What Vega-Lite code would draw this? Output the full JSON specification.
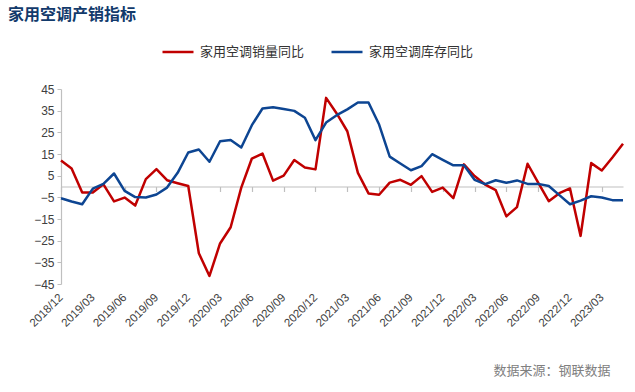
{
  "$schema": "https://vega.github.io/schema/vega-lite/v6.json",
  "width": 562,
  "height": 195,
  "autosize": {"type": "none"},
  "padding": {"left": 61, "top": 89, "right": 12, "bottom": 108},
  "background": "white",
  "config": {"view": {"stroke": null}},
  "title": {
    "text": "家用空调产销指标",
    "anchor": "start",
    "frame": "group",
    "dx": -53,
    "offset": -4,
    "baseline": "bottom",
    "font": "Noto Sans CJK SC",
    "fontSize": 16,
    "fontWeight": "bold",
    "color": "#123a6b"
  },
  "data": {
    "values": [
      {"m": "2018/12", "家用空调销量同比": 12.0, "家用空调库存同比": -5.4},
      {"m": "2019/01", "家用空调销量同比": 8.3, "家用空调库存同比": -6.9},
      {"m": "2019/02", "家用空调销量同比": -2.8, "家用空调库存同比": -8.2},
      {"m": "2019/03", "家用空调销量同比": -2.8, "家用空调库存同比": -1.0},
      {"m": "2019/04", "家用空调销量同比": 1.0, "家用空调库存同比": 1.2},
      {"m": "2019/05", "家用空调销量同比": -6.9, "家用空调库存同比": 6.0},
      {"m": "2019/06", "家用空调销量同比": -5.1, "家用空调库存同比": -2.0},
      {"m": "2019/07", "家用空调销量同比": -8.8, "家用空调库存同比": -4.9},
      {"m": "2019/08", "家用空调销量同比": 3.4, "家用空调库存同比": -5.1},
      {"m": "2019/09", "家用空调销量同比": 8.0, "家用空调库存同比": -3.7},
      {"m": "2019/10", "家用空调销量同比": 2.9, "家用空调库存同比": -0.5},
      {"m": "2019/11", "家用空调销量同比": 1.5, "家用空调库存同比": 6.3},
      {"m": "2019/12", "家用空调销量同比": 0.2, "家用空调库存同比": 15.7},
      {"m": "2020/01", "家用空调销量同比": -30.8, "家用空调库存同比": 17.1},
      {"m": "2020/02", "家用空调销量同比": -41.3, "家用空调库存同比": 11.4},
      {"m": "2020/03", "家用空调销量同比": -26.3, "家用空调库存同比": 20.9},
      {"m": "2020/04", "家用空调销量同比": -18.8, "家用空调库存同比": 21.5},
      {"m": "2020/05", "家用空调销量同比": -0.5, "家用空调库存同比": 18.0},
      {"m": "2020/06", "家用空调销量同比": 12.9, "家用空调库存同比": 28.3},
      {"m": "2020/07", "家用空调销量同比": 15.2, "家用空调库存同比": 36.0},
      {"m": "2020/08", "家用空调销量同比": 2.7, "家用空调库存同比": 36.6},
      {"m": "2020/09", "家用空调销量同比": 5.0, "家用空调库存同比": 35.8},
      {"m": "2020/10", "家用空调销量同比": 12.2, "家用空调库存同比": 34.9},
      {"m": "2020/11", "家用空调销量同比": 8.8, "家用空调库存同比": 31.7},
      {"m": "2020/12", "家用空调销量同比": 7.9, "家用空调库存同比": 21.4},
      {"m": "2021/01", "家用空调销量同比": 40.9, "家用空调库存同比": 29.5},
      {"m": "2021/02", "家用空调销量同比": 33.7, "家用空调库存同比": 32.9},
      {"m": "2021/03", "家用空调销量同比": 25.5, "家用空调库存同比": 35.6},
      {"m": "2021/04", "家用空调销量同比": 6.3, "家用空调库存同比": 38.8},
      {"m": "2021/05", "家用空调销量同比": -3.2, "家用空调库存同比": 38.8},
      {"m": "2021/06", "家用空调销量同比": -3.8, "家用空调库存同比": 28.6},
      {"m": "2021/07", "家用空调销量同比": 1.8, "家用空调库存同比": 13.8},
      {"m": "2021/08", "家用空调销量同比": 3.1, "家用空调库存同比": 10.6},
      {"m": "2021/09", "家用空调销量同比": 0.8, "家用空调库存同比": 7.5},
      {"m": "2021/10", "家用空调销量同比": 4.8, "家用空调库存同比": 9.4},
      {"m": "2021/11", "家用空调销量同比": -2.5, "家用空调库存同比": 14.9},
      {"m": "2021/12", "家用空调销量同比": -0.5, "家用空调库存同比": 12.3},
      {"m": "2022/01", "家用空调销量同比": -5.4, "家用空调库存同比": 9.8},
      {"m": "2022/02", "家用空调销量同比": 10.2, "家用空调库存同比": 9.8},
      {"m": "2022/03", "家用空调销量同比": 4.8, "家用空调库存同比": 3.1},
      {"m": "2022/04", "家用空调销量同比": 0.9, "家用空调库存同比": 1.1},
      {"m": "2022/05", "家用空调销量同比": -1.7, "家用空调库存同比": 2.9},
      {"m": "2022/06", "家用空调销量同比": -13.8, "家用空调库存同比": 1.7},
      {"m": "2022/07", "家用空调销量同比": -9.5, "家用空调库存同比": 2.8},
      {"m": "2022/08", "家用空调销量同比": 10.5, "家用空调库存同比": 1.2},
      {"m": "2022/09", "家用空调销量同比": 1.8, "家用空调库存同比": 1.2},
      {"m": "2022/10", "家用空调销量同比": -6.8, "家用空调库存同比": 0.2},
      {"m": "2022/11", "家用空调销量同比": -3.1, "家用空调库存同比": -4.0},
      {"m": "2022/12", "家用空调销量同比": -0.9, "家用空调库存同比": -8.2},
      {"m": "2023/01", "家用空调销量同比": -22.8, "家用空调库存同比": -6.5},
      {"m": "2023/02", "家用空调销量同比": 10.8, "家用空调库存同比": -4.5},
      {"m": "2023/03", "家用空调销量同比": 7.4, "家用空调库存同比": -5.1},
      {"m": "2023/04", "家用空调销量同比": 13.4, "家用空调库存同比": -6.3},
      {"m": "2023/05", "家用空调销量同比": 19.7, "家用空调库存同比": -6.3}
    ]
  },
  "transform": [
    {"fold": ["家用空调销量同比", "家用空调库存同比"], "as": ["series", "value"]}
  ],
  "mark": {"type": "line", "strokeWidth": 2.5, "strokeJoin": "round"},
  "encoding": {
    "x": {
      "field": "m",
      "type": "ordinal",
      "sort": null,
      "scale": {"type": "point", "padding": 0},
      "axis": {
        "values": ["2018/12", "2019/03", "2019/06", "2019/09", "2019/12", "2020/03", "2020/06", "2020/09", "2020/12", "2021/03", "2021/06", "2021/09", "2021/12", "2022/03", "2022/06", "2022/09", "2022/12", "2023/03"],
        "offset": -97.5,
        "domainColor": "#bfbfbf",
        "domainWidth": 1.2,
        "tickColor": "#bfbfbf",
        "tickSize": 5,
        "tickWidth": 1.2,
        "labelAngle": -45,
        "labelAlign": "right",
        "labelBaseline": "middle",
        "labelPadding": 104,
        "labelFont": "Liberation Sans",
        "labelFontSize": 11.5,
        "labelColor": "#404040",
        "labelOverlap": false,
        "labelBound": false,
        "title": "数据来源：钢联数据",
        "titleX": 549,
        "titleY": 188,
        "titleAlign": "right",
        "titleAnchor": null,
        "titleBaseline": "alphabetic",
        "titleFont": "Noto Sans CJK SC",
        "titleFontSize": 13,
        "titleFontWeight": "normal",
        "titleColor": "#808080"
      }
    },
    "y": {
      "field": "value",
      "type": "quantitative",
      "scale": {"domain": [-45, 45], "nice": false, "zero": false},
      "axis": {
        "values": [-45, -35, -25, -15, -5, 5, 15, 25, 35, 45],
        "grid": false,
        "title": null,
        "domainColor": "#bfbfbf",
        "domainWidth": 1.2,
        "tickColor": "#bfbfbf",
        "tickSize": 4,
        "labelPadding": 3,
        "labelFont": "Liberation Sans",
        "labelFontSize": 12,
        "labelColor": "#404040"
      }
    },
    "color": {
      "field": "series",
      "type": "nominal",
      "scale": {"domain": ["家用空调销量同比", "家用空调库存同比"], "range": ["#c00000", "#0d4592"]},
      "legend": {
        "title": null,
        "orient": "none",
        "direction": "horizontal",
        "legendX": 100,
        "legendY": -54,
        "symbolType": "stroke",
        "symbolSize": 961,
        "symbolStrokeWidth": 2.5,
        "labelOffset": 5,
        "columnPadding": 21,
        "labelFont": "Noto Sans CJK SC",
        "labelFontSize": 13,
        "labelColor": "#333333"
      }
    }
  }
}
